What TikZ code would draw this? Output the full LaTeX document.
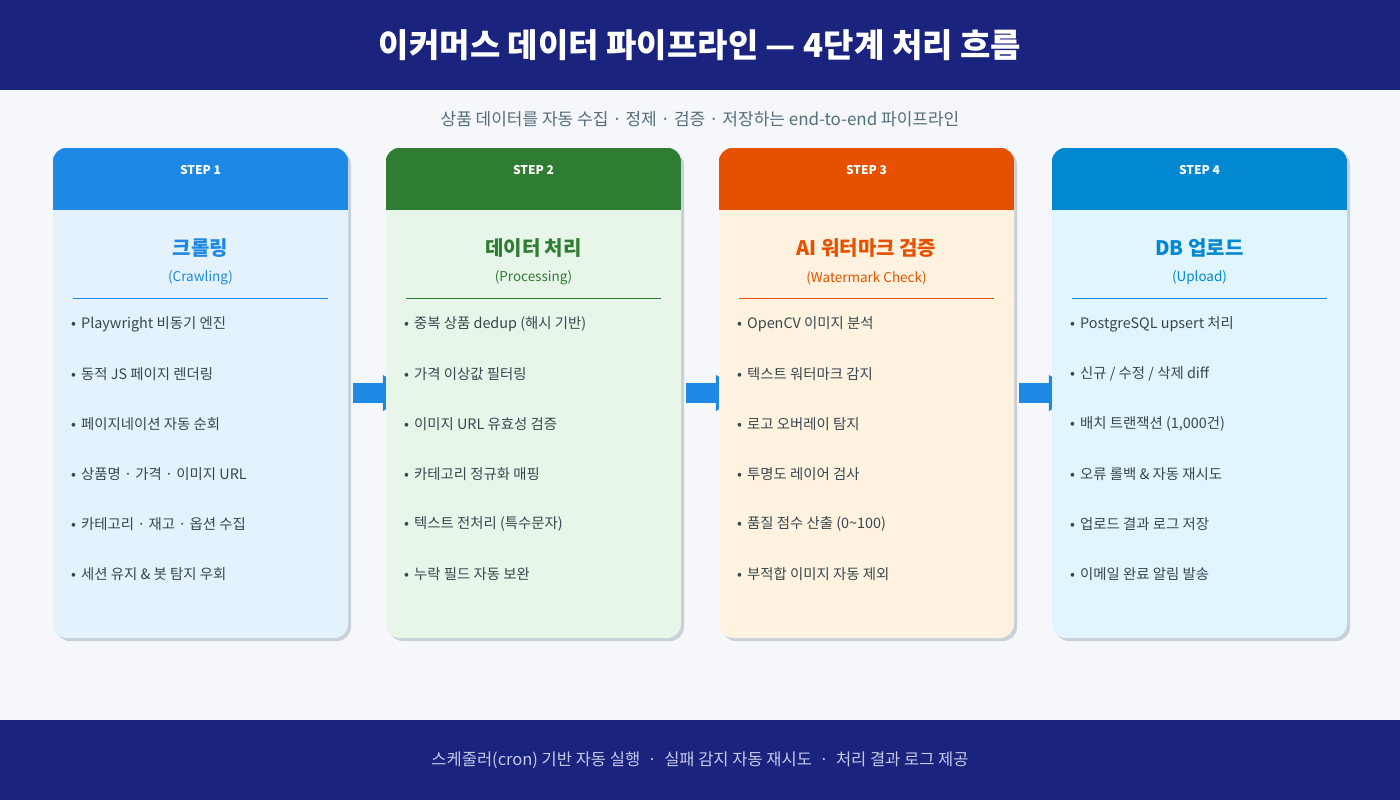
\documentclass[tikz,border=0pt]{standalone}
\usepackage{fontspec}
\setmainfont{Noto Sans CJK KR}
\usetikzlibrary{arrows.meta}
\definecolor{navy}{HTML}{1A237E}
\definecolor{pagebg}{HTML}{F5F7FA}
\definecolor{shadowc}{HTML}{C8D0DA}
\definecolor{bullettext}{HTML}{37474F}
\definecolor{subgray}{HTML}{546E7A}
\definecolor{foottext}{HTML}{C5CAE9}
\definecolor{hA}{HTML}{1E88E5}\definecolor{bA}{HTML}{E3F2FD}
\definecolor{hB}{HTML}{2E7D32}\definecolor{bB}{HTML}{E8F5E9}
\definecolor{hC}{HTML}{E65100}\definecolor{bC}{HTML}{FFF3E0}
\definecolor{hD}{HTML}{0288D1}\definecolor{bD}{HTML}{E1F5FE}
\pgfdeclarelayer{bglayer}\pgfdeclarelayer{arrlayer}
\pgfsetlayers{bglayer,arrlayer,main}
\tikzset{
  cardbox/.style={rectangle, rounded corners=14pt, minimum width=295pt, minimum height=490pt, inner sep=0pt},
  steplabel/.style={text=white, font=\bfseries\fontsize{12}{14}\selectfont},
  cardtitle/.style={font=\bfseries\fontsize{20}{23}\selectfont},
  cardsub/.style={font=\fontsize{13.5}{16}\selectfont},
  bullettxt/.style={anchor=west, inner sep=0pt, text=bullettext, font=\fontsize{14.4}{17}\selectfont},
  flowarrow/.style={line width=20pt, hA, -{Triangle[length=30pt,width=34pt]}},
}
\newcommand\stepcard[8]{%
  \fill[shadowc, rounded corners=14pt] (#2+3,151) rectangle +(295,490);
  \node[cardbox, fill=#4] (#1) at (#2+147.5,393) {};
  \begin{scope}
    \clip[rounded corners=14pt] (#1.south west) rectangle (#1.north east);
    \fill[#3] (#1.north west) rectangle ([yshift=-62pt]#1.north east);
  \end{scope}
  \node[steplabel] (#1h) at (#2+147.5,170) {#5};
  \node[cardtitle, text=#3] (#1t) at (#2+147.5,248) {#6};
  \node[cardsub, text=#3] (#1s) at (#2+147.5,278) {#7};
  \draw[#3, line width=1pt] (#2+20,298) -- (#2+275,298);
  \foreach \t [count=\i from 0] in {#8} {
    \node[bullettxt] (#1b\i) at (#2+18,324+50*\i) {•\hspace{0.35em}\t};
  }
}
\begin{document}
\begin{tikzpicture}[x=1pt,y=-1pt]
\useasboundingbox (0,0) rectangle (1400,800);
\begin{pgfonlayer}{bglayer}
\fill[pagebg] (0,0) rectangle (1400,800);
\end{pgfonlayer}
\fill[navy] (0,0) rectangle (1400,90);
\node[text=white, font=\bfseries\fontsize{33}{38}\selectfont] (title) at (700,45) {이커머스 데이터 파이프라인 — 4단계 처리 흐름};
\node[text=subgray, font=\fontsize{17}{20}\selectfont] (subtitle) at (700,119) {상품 데이터를 자동 수집 · 정제 · 검증 · 저장하는 end-to-end 파이프라인};

\stepcard{c1}{53}{hA}{bA}{STEP 1}{크롤링}{(Crawling)}{{Playwright 비동기 엔진},{동적 JS 페이지 렌더링},{페이지네이션 자동 순회},{상품명 · 가격 · 이미지 URL},{카테고리 · 재고 · 옵션 수집},{세션 유지 \& 봇 탐지 우회}}
\stepcard{c2}{386}{hB}{bB}{STEP 2}{데이터 처리}{(Processing)}{{중복 상품 dedup (해시 기반)},{가격 이상값 필터링},{이미지 URL 유효성 검증},{카테고리 정규화 매핑},{텍스트 전처리 (특수문자)},{누락 필드 자동 보완}}
\stepcard{c3}{719}{hC}{bC}{STEP 3}{AI 워터마크 검증}{(Watermark Check)}{{OpenCV 이미지 분석},{텍스트 워터마크 감지},{로고 오버레이 탐지},{투명도 레이어 검사},{품질 점수 산출 (0\textasciitilde100)},{부적합 이미지 자동 제외}}
\stepcard{c4}{1052}{hD}{bD}{STEP 4}{DB 업로드}{(Upload)}{{PostgreSQL upsert 처리},{신규 / 수정 / 삭제 diff},{배치 트랜잭션 (1,000건)},{오류 롤백 \& 자동 재시도},{업로드 결과 로그 저장},{이메일 완료 알림 발송}}

\begin{pgfonlayer}{arrlayer}
\draw[flowarrow] ([xshift=5pt]c1.east) -- ([xshift=27pt]c2.west);
\draw[flowarrow] ([xshift=5pt]c2.east) -- ([xshift=27pt]c3.west);
\draw[flowarrow] ([xshift=5pt]c3.east) -- ([xshift=27pt]c4.west);
\end{pgfonlayer}

\fill[navy] (0,720) rectangle (1400,800);
\node[text=foottext, font=\fontsize{16.5}{19}\selectfont] (footer) at (700,760) {스케줄러(cron) 기반 자동 실행 \ · \ 실패 감지 자동 재시도 \ · \ 처리 결과 로그 제공};
\end{tikzpicture}
\end{document}
